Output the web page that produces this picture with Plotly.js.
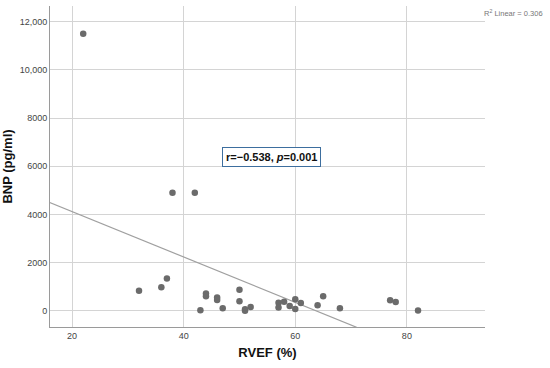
<!DOCTYPE html>
<html>
<head>
<meta charset="utf-8">
<script src="https://cdn.plot.ly/plotly-3.0.1.min.js"></script>
<style>
  html, body { margin: 0; padding: 0; background: #fff; }
  #chart { width: 550px; height: 368px; }
</style>
</head>
<body>
<div id="chart"></div>
<script>
// RVEF (%) vs BNP (pg/ml)
var rvef = [22, 32, 36, 37, 38, 42, 43, 44, 44, 46, 46, 47, 50, 50, 51, 51, 52,
            57, 57, 58, 59, 60, 60, 61, 64, 65, 68, 77, 78, 82];
var bnp = [11500, 825, 980, 1340, 4900, 4900, 20, 716, 604, 550, 450, 104, 870, 396, 60, 0, 160,
           330, 130, 370, 200, 480, 75, 325, 230, 600, 104, 437, 367, 10];

// linear fit shown in the figure (R2 linear = 0.306)
var fitIntercept = 6000;
var fitSlope = -94.2;
var fitRange = [16, 71];

var yTickVals = [0, 2000, 4000, 6000, 8000, 10000, 12000];
var yTickText = ['0', '2000', '4000', '6000', '8000', '10,000', '12,000'];
var xTickVals = [20, 40, 60, 80];

var fitX = fitRange;
var fitY = fitRange.map(x => fitIntercept + fitSlope * x);

var tracePoints = {
    x: rvef,
    y: bnp,
    type: 'scatter',
    mode: 'markers',
    marker: { color: '#6b6b6b', size: 6.5 },
    showlegend: false
};
var traceFit = {
    x: fitX,
    y: fitY,
    type: 'scatter',
    mode: 'lines',
    line: { color: '#a0a0a0', width: 1.2 },
    showlegend: false
};

var layout = {
    width: 550,
    height: 368,
    margin: { l: 50, r: 65, t: 6, b: 41 },
    paper_bgcolor: '#ffffff',
    plot_bgcolor: '#ffffff',
    font: { family: 'Liberation Sans, Arial, sans-serif', color: '#333' },
    xaxis: {
        range: [16.05, 94],
        tickvals: xTickVals,
        ticks: '',
        tickfont: { size: 9, color: '#444' },
        showgrid: true,
        gridcolor: '#d4d4d4',
        gridwidth: 1,
        zeroline: false,
        showline: true,
        linecolor: '#9a9a9a',
        linewidth: 1,
        title: { text: '<b>RVEF (%)</b>', font: { size: 13, color: '#111' }, standoff: 8 }
    },
    yaxis: {
        range: [-675, 12650],
        tickvals: yTickVals,
        ticktext: yTickText,
        ticks: '',
        tickfont: { size: 9, color: '#444' },
        showgrid: true,
        gridcolor: '#d4d4d4',
        gridwidth: 1,
        zeroline: false,
        showline: true,
        linecolor: '#9a9a9a',
        linewidth: 1,
        title: { text: '<b>BNP (pg/ml)</b>', font: { size: 13, color: '#111' }, standoff: 4 }
    },
    annotations: [
        {
            x: 55.8, y: 6400, xref: 'x', yref: 'y',
            text: '<b>r=\u22120.538, <i>p</i>=0.001</b>',
            showarrow: false,
            font: { size: 11, color: '#111' },
            bordercolor: '#3d6e9e',
            borderwidth: 1,
            borderpad: 3,
            bgcolor: '#ffffff'
        },
        {
            x: 1.138, y: 0.978, xref: 'paper', yref: 'paper',
            xanchor: 'right', yanchor: 'middle',
            text: 'R<sup>2</sup> Linear = 0.306',
            showarrow: false,
            font: { size: 7.5, color: '#777' }
        }
    ]
};

Plotly.newPlot('chart', [traceFit, tracePoints], layout, { displayModeBar: false, staticPlot: true });
</script>
</body>
</html>
